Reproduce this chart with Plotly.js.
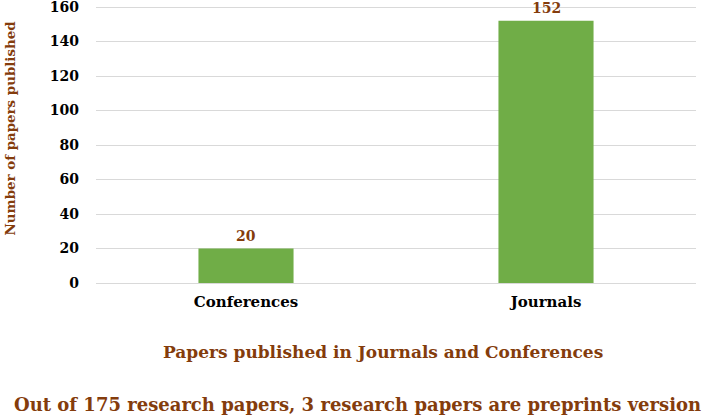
<!DOCTYPE html>
<html>
<head>
<meta charset="utf-8">
<script src="https://cdn.plot.ly/plotly-3.0.1.min.js"></script>
<style>html,body{margin:0;padding:0;background:#fff;}#chart{width:711px;height:420px;}</style>
</head>
<body>
<div id="chart"></div>
<script>
const categories = ["Conferences", "Journals"];
const papers = [20, 152];
const yTicks = [0, 20, 40, 60, 80, 100, 120, 140, 160];

const brown = "#843C0C";
const serif = '"DejaVu Serif", serif';

const trace = {
  type: "bar",
  x: categories,
  y: papers,
  width: 0.317,
  marker: {color: "#70AD47"},
  cliponaxis: false,
  hoverinfo: "none"
};

const valueLabels = categories.map((c, i) => ({
  text: String(papers[i]), x: c, y: papers[i], xref: "x", yref: "y",
  xanchor: "center", yanchor: "bottom", yshift: 3, showarrow: false,
  font: {family: serif, size: 14, color: brown, weight: "bold"}
}));

const layout = {
  width: 711, height: 420,
  margin: {l: 96, r: 15, t: 2, b: 137},
  paper_bgcolor: "#ffffff", plot_bgcolor: "#ffffff",
  showlegend: false,
  font: {family: serif, size: 14, color: "#000"},
  xaxis: {
    type: "category",
    showgrid: false, zeroline: false, showline: false,
    ticks: "", tickfont: {family: serif, size: 15, color: "#000", weight: "bold"},
    ticklabelstandoff: 8
  },
  yaxis: {
    range: [0, 162.9],
    tickvals: yTicks,
    ticktext: yTicks.map(String),
    ticklabeloverflow: "allow",
    showgrid: true, gridcolor: "#d9d9d9", gridwidth: 1,
    zeroline: true, zerolinecolor: "#d9d9d9", zerolinewidth: 1,
    showline: false, ticks: "",
    tickfont: {family: serif, size: 14, color: "#000", weight: "bold"},
    ticklabelstandoff: 16
  },
  annotations: valueLabels.concat([
    {text: "Number of papers published", xref: "paper", yref: "paper", x: 0, y: 0.55,
     xshift: -86, xanchor: "center", yanchor: "middle", textangle: -90, showarrow: false,
     font: {family: serif, size: 13.4, color: brown, weight: "bold"}},
    {text: "Papers published in Journals and Conferences", xref: "paper", yref: "paper",
     x: 0.478, y: -0.246, xanchor: "center", yanchor: "middle", showarrow: false,
     font: {family: serif, size: 17, color: brown, weight: "bold"}},
    {text: "Out of 175 research papers, 3 research papers are preprints version", xref: "paper", yref: "paper",
     x: 0.435, y: -0.434, xanchor: "center", yanchor: "middle", showarrow: false,
     font: {family: serif, size: 18, color: brown, weight: "bold"}}
  ])
};

Plotly.newPlot("chart", [trace], layout, {displayModeBar: false, staticPlot: true});
</script>
</body>
</html>
